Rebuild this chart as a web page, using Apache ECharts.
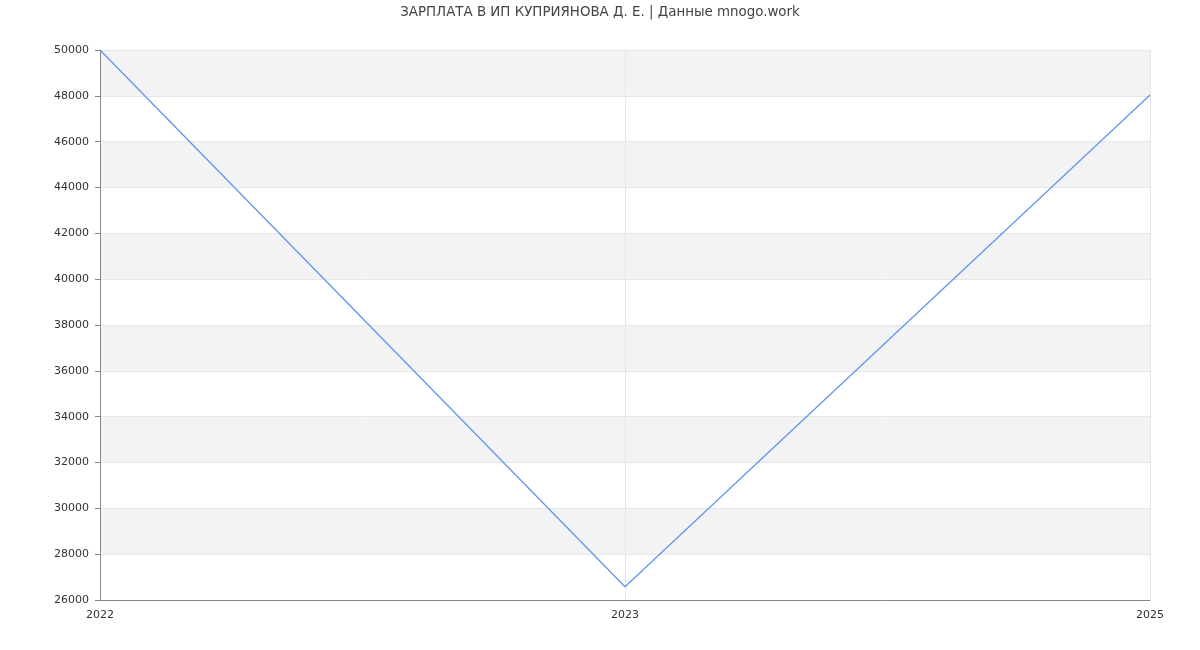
<!DOCTYPE html>
<html><head><meta charset="utf-8">
<script src="https://cdn.jsdelivr.net/npm/echarts@6/dist/echarts.min.js"></script>
<style>html,body{margin:0;padding:0;background:#fff}#c{width:1200px;height:650px}</style>
</head><body><div id="c"></div>
<script>
const titleText = 'ЗАРПЛАТА В ИП КУПРИЯНОВА Д. Е. | Данные mnogo.work';
const categories = ['2022', '2023', '2025'];
const salary = [50000, 26580, 48040];
const yMin = 26000, yMax = 50000, yStep = 2000;

const chart = echarts.init(document.getElementById('c'), null, {renderer: 'canvas'});
chart.setOption({
  animation: false,
  textStyle: {fontFamily: 'DejaVu Sans'},
  title: {text: titleText, left: 'center', top: 1,
    textStyle: {fontSize: 13.4, fontWeight: 'normal', color: '#444', fontFamily: 'DejaVu Sans'}},
  grid: {left: 100, right: 50, top: 50, bottom: 50, containLabel: false},
  xAxis: {
    type: 'category', data: categories, boundaryGap: false,
    axisLine: {lineStyle: {color: '#888'}},
    axisTick: {show: false},
    axisLabel: {color: '#333', fontSize: 11, margin: 10},
    splitLine: {show: true, lineStyle: {color: '#e6e6e6'}}
  },
  yAxis: {
    type: 'value', min: yMin, max: yMax, interval: yStep,
    axisLine: {show: true, lineStyle: {color: '#888'}},
    axisTick: {show: true, length: 5, lineStyle: {color: '#888'}},
    axisLabel: {color: '#333', fontSize: 11, margin: 11, formatter: v => String(v)},
    splitLine: {show: true, lineStyle: {color: '#e6e6e6'}},
    splitArea: {show: true, areaStyle: {color: ['#ffffff', '#f3f3f3']}}
  },
  series: [{
    type: 'line', data: salary, symbol: 'none',
    lineStyle: {color: '#6495ed', width: 1.3}
  }]
});
</script></body></html>
